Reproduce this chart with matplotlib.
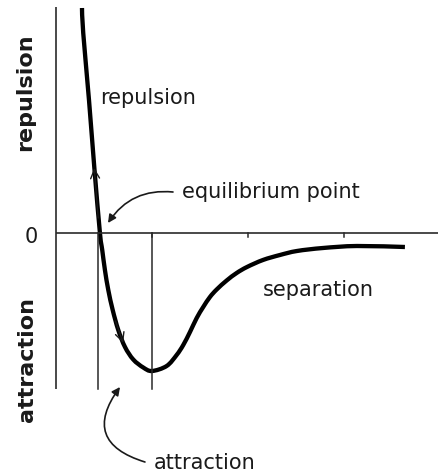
import matplotlib
matplotlib.use("Agg")
import matplotlib.pyplot as plt
from matplotlib.path import Path
from matplotlib.patches import PathPatch

# Interatomic potential: separation (x) vs. energy (y), arbitrary units
separation = [0.271, 0.284, 0.344, 0.399, 0.458, 0.482, 0.510, 0.545, 0.591,
              0.649, 0.719, 0.805, 0.909, 1.000, 1.153, 1.257, 1.326, 1.396,
              1.466, 1.534, 1.604, 1.674, 1.778, 1.882, 1.990, 2.156, 2.333,
              2.510, 2.781, 3.135, 3.635]
energy = [2.25, 2.00, 1.33, 0.66, 0.00, -0.17, -0.37, -0.57, -0.77,
          -0.97, -1.14, -1.265, -1.345, -1.38, -1.33, -1.22, -1.12, -0.99,
          -0.85, -0.74, -0.64, -0.565, -0.475, -0.40, -0.34, -0.27, -0.22,
          -0.18, -0.15, -0.13, -0.14]

equilibrium_x = 0.44
minimum_x = 1.000
tick_positions = [1, 2, 3]

x_axis_end = 4.0
y_top, y_bottom = 2.26, -1.56

ink = "#1a1a1a"
axis_ink = "#2a2a2a"


def smooth_path(xs, ys):
    """Bezier path passing through every point (Catmull-Rom tangents)."""
    pts = list(zip(xs, ys))
    verts = [pts[0]]
    codes = [Path.MOVETO]
    n = len(pts)
    for i in range(n - 1):
        p0 = pts[i - 1] if i > 0 else pts[i]
        p1 = pts[i]
        p2 = pts[i + 1]
        p3 = pts[i + 2] if i + 2 < n else pts[i + 1]
        c1 = (p1[0] + (p2[0] - p0[0]) / 6, p1[1] + (p2[1] - p0[1]) / 6)
        c2 = (p2[0] - (p3[0] - p1[0]) / 6, p2[1] - (p3[1] - p1[1]) / 6)
        verts += [c1, c2, p2]
        codes += [Path.CURVE4] * 3
    return Path(verts, codes)


fig = plt.figure(figsize=(4.39, 4.76), dpi=100)
ax = fig.add_axes([0, 0, 1, 1])
ax.set_xlim(-0.583, 3.990)
ax.set_ylim(-2.43, 2.33)
ax.axis("off")

# axes drawn as plain lines
ax.plot([0, 0], [y_bottom, y_top], color=axis_ink, lw=1.2, solid_capstyle="butt")
ax.plot([0, x_axis_end], [0, 0], color=axis_ink, lw=1.2, solid_capstyle="butt")
for t in tick_positions:
    ax.plot([t, t], [0, -0.045], color=axis_ink, lw=1.1)

# guide lines at equilibrium and at the energy minimum
ax.plot([equilibrium_x, equilibrium_x], [y_bottom, 0], color=axis_ink, lw=1.1)
ax.plot([minimum_x, minimum_x], [y_bottom, 0], color=axis_ink, lw=1.1)

# potential curve
ax.add_patch(PathPatch(smooth_path(separation, energy), facecolor="none",
                       edgecolor="black", lw=3.1, capstyle="butt",
                       joinstyle="round"))

# direction chevrons along the curve
ax.annotate("", xy=(0.399, 0.65), xytext=(0.44, 0.15),
            arrowprops=dict(arrowstyle="->", lw=1.0, color=ink,
                            mutation_scale=16, shrinkA=0, shrinkB=0))
ax.annotate("", xy=(0.70, -1.10), xytext=(0.62, -0.88),
            arrowprops=dict(arrowstyle="->", lw=1.0, color=ink,
                            mutation_scale=16, shrinkA=0, shrinkB=0))

# callout arrows
ax.annotate("", xy=(0.542, 0.10), xytext=(1.219, 0.41),
            arrowprops=dict(arrowstyle="-|>", lw=1.2, color=ink,
                            mutation_scale=12, shrinkA=0, shrinkB=0,
                            connectionstyle="arc3,rad=0.3"))
ax.annotate("", xy=(0.667, -1.54), xytext=(0.927, -2.29),
            arrowprops=dict(arrowstyle="-|>", lw=1.2, color=ink,
                            mutation_scale=12, shrinkA=0, shrinkB=0,
                            connectionstyle="arc3,rad=-0.7"))

# labels
fs = 15
ax.text(0.458, 1.35, "repulsion", fontsize=fs, color=ink, ha="left", va="center")
ax.text(1.3125, 0.41, "equilibrium point", fontsize=fs, color=ink, ha="left", va="center")
ax.text(2.156, -0.57, "separation", fontsize=fs, color=ink, ha="left", va="center")
ax.text(1.02, -2.30, "attraction", fontsize=fs, color=ink, ha="left", va="center")
ax.text(-0.26, -0.04, "0", fontsize=fs, color=ink, ha="center", va="center")
ax.text(-0.323, 1.41, "repulsion", fontsize=16, fontweight="semibold", color=ink,
        rotation=90, ha="center", va="center")
ax.text(-0.302, -1.27, "attraction", fontsize=16, fontweight="semibold", color=ink,
        rotation=90, ha="center", va="center")

fig.savefig("out.png", dpi=100)
